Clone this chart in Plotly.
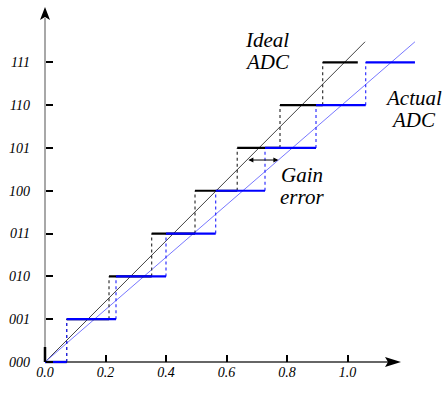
import plotly.graph_objects as go

# ---- data ----
codes = [0, 1, 2, 3, 4, 5, 6, 7]
code_labels = ["000", "001", "010", "011", "100", "101", "110", "111"]
x_ticks = [0.0, 0.2, 0.4, 0.6, 0.8, 1.0]
x_tick_labels = ["0.0", "0.2", "0.4", "0.6", "0.8", "1.0"]
ideal_transitions = [0.0717, 0.2116, 0.3527, 0.4959, 0.6354, 0.7769, 0.9180]
ideal_end = 1.034
actual_transitions = [0.0717, 0.2347, 0.4000, 0.5643, 0.7273, 0.8959, 1.0602]
actual_end = 1.223
ideal_line_x = [0.0, 1.058]
ideal_line_y = [0.0, 7.48]
actual_line_x = [0.0, 1.223]
actual_line_y = [0.0, 7.48]
gain_err_code = 4.718

# ---- geometry helpers ----
PX_PER_V = 302.5
PX_PER_CODE = 42.81
X0_PX, Y0_PX = 45, 362
W, H = 446, 393
ML, MB = 30, 20
plot_w, plot_h = W - ML, H - MB
xmin = (ML - X0_PX) / PX_PER_V
xmax = xmin + plot_w / PX_PER_V
ymin = -(plot_h - Y0_PX) / PX_PER_CODE
ymax = ymin + plot_h / PX_PER_CODE


def px2x(px):
    return (px - X0_PX) / PX_PER_V


def px2y(py):
    return (Y0_PX - py) / PX_PER_CODE


def stairs(trans, end):
    hx, hy, vx, vy = [], [], [], []
    edges = [0.0] + trans + [end]
    for k in codes:
        hx += [edges[k], edges[k + 1], None]
        hy += [k, k, None]
        if k > 0:
            vx += [edges[k], edges[k], None]
            vy += [k - 1, k, None]
    return hx, hy, vx, vy


ihx, ihy, ivx, ivy = stairs(ideal_transitions, ideal_end)
ahx, ahy, avx, avy = stairs(actual_transitions, actual_end)

fig = go.Figure()
fig.add_trace(go.Scatter(x=ideal_line_x, y=ideal_line_y, mode="lines",
                         line=dict(color="#444444", width=1), hoverinfo="skip"))
fig.add_trace(go.Scatter(x=actual_line_x, y=actual_line_y, mode="lines",
                         line=dict(color="#7878ff", width=1), hoverinfo="skip"))
fig.add_trace(go.Scatter(x=ivx, y=ivy, mode="lines",
                         line=dict(color="#222222", width=1.1, dash="dot"), hoverinfo="skip"))
fig.add_trace(go.Scatter(x=avx, y=avy, mode="lines",
                         line=dict(color="#2020ff", width=1.1, dash="dot"), hoverinfo="skip"))
fig.add_trace(go.Scatter(x=ihx, y=ihy, mode="lines",
                         line=dict(color="black", width=2.2), hoverinfo="skip"))
fig.add_trace(go.Scatter(x=ahx, y=ahy, mode="lines",
                         line=dict(color="#0000ff", width=2.2), hoverinfo="skip"))

SERIF = "Liberation Serif, Times New Roman, serif"
tick_font = dict(family=SERIF, size=14, color="black", style="italic")

fig.update_layout(
    width=W, height=H,
    margin=dict(l=ML, r=0, t=0, b=MB),
    paper_bgcolor="white", plot_bgcolor="white",
    showlegend=False,
    xaxis=dict(range=[xmin, xmax], anchor="free", position=(plot_h - Y0_PX) / plot_h,
               showgrid=False, zeroline=False, showline=False,
               tickvals=x_ticks, ticktext=x_tick_labels, ticks="inside",
               ticklen=7, tickwidth=2, tickcolor="black", tickfont=tick_font,
               ticklabelstandoff=0),
    yaxis=dict(range=[ymin, ymax], anchor="free", position=(X0_PX - ML) / plot_w,
               showgrid=False, zeroline=False, showline=False,
               tickvals=codes, ticktext=code_labels, ticks="inside",
               ticklen=7, tickwidth=2, tickcolor="black", tickfont=tick_font,
               ticklabelstandoff=15),
)

# axes lines
fig.add_shape(type="line", x0=0, y0=0, x1=0, y1=px2y(18), xref="x", yref="y",
              line=dict(color="#a8a8a8", width=2), layer="below")
fig.add_shape(type="line", x0=0, y0=0, x1=px2x(388), y1=0, xref="x", yref="y",
              line=dict(color="#333333", width=1.5), layer="below")
fig.add_shape(type="line", x0=0, y0=0, x1=0, y1=px2y(347), xref="x", yref="y",
              line=dict(color="black", width=2.5), layer="below")
# arrow heads
fig.add_shape(type="path", xref="x", yref="y", fillcolor="black", line=dict(width=0),
              path=f"M {px2x(45)},{px2y(7)} L {px2x(40)},{px2y(20)} L {px2x(45)},{px2y(17)} L {px2x(50)},{px2y(20)} Z")
fig.add_shape(type="path", xref="x", yref="y", fillcolor="black", line=dict(width=0),
              path=f"M {px2x(401)},{px2y(362)} L {px2x(385)},{px2y(357)} L {px2x(388)},{px2y(362)} L {px2x(385)},{px2y(367)} Z")

# gain error arrow
fig.add_annotation(x=gain_err_code / (actual_line_y[1] / actual_line_x[1]), y=gain_err_code,
                   ax=gain_err_code / (ideal_line_y[1] / ideal_line_x[1]), ay=gain_err_code,
                   xref="x", yref="y", axref="x", ayref="y", text="",
                   showarrow=True, arrowhead=2, startarrowhead=2, arrowside="end+start",
                   arrowsize=1, startarrowsize=1, arrowwidth=1, arrowcolor="black")

lab_font = dict(family=SERIF, size=21, color="black")
for txt, cx, cy, anchor in [("Ideal", 243, 40, "left"), ("ADC", 243, 62, "left"),
                            ("Actual", 413, 97.5, "center"), ("ADC", 413, 119.5, "center"),
                            ("Gain", 302, 175, "center"), ("error", 302, 197, "center")]:
    fig.add_annotation(x=px2x(cx), y=px2y(cy), xref="x", yref="y", text=f"<i>{txt}</i>",
                       showarrow=False, xanchor=anchor, yanchor="middle", font=lab_font)

fig.add_annotation(x=px2x(408), y=px2y(382), xref="x", yref="y",
                   text="<i>V<sub>IN</sub> [V]</i>", showarrow=False,
                   xanchor="center", yanchor="middle",
                   font=dict(family=SERIF, size=14, color="black"))

fig.write_html("out.html")
